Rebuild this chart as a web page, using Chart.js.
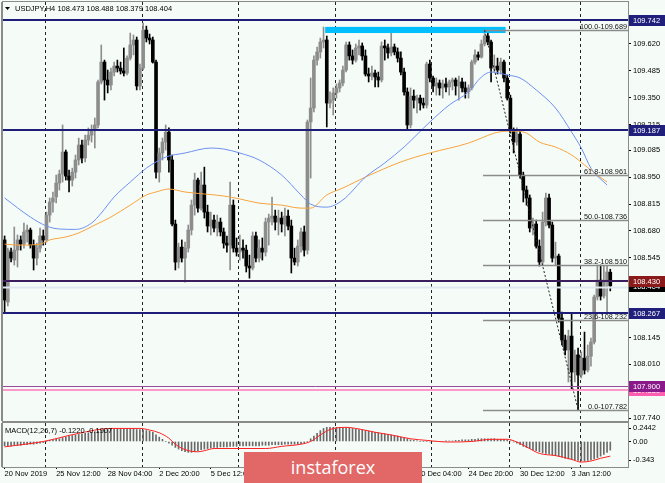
<!DOCTYPE html>
<html lang="en">
<head>
<meta charset="UTF-8">
<title>USDJPY H4</title>
<script src="https://cdn.jsdelivr.net/npm/chart.js@4.4.1/dist/chart.umd.min.js"></script>
<style>
  html, body { margin: 0; padding: 0; background: #f5fcf8; }
  #wrap { position: relative; width: 665px; height: 483px; overflow: hidden; background: #f5fcf8; }
  #main { position: absolute; left: 0; top: 0; }
  #macd { position: absolute; left: 0; top: 422px; }
  #logo { position: absolute; left: 244px; top: 452px; width: 178px; height: 31px;
          background: #e26767; color: #fff; font: 18px "Open Sans", sans-serif;
          text-align: center; line-height: 30px; }
</style>
</head>
<body>
<div id="wrap">
  <canvas id="main" width="665" height="422"></canvas>
  <canvas id="macd" width="665" height="61"></canvas>
  <div id="logo">instaforex</div>
</div>
<script>
// ---- data ----
const symbol = 'USDJPY,H4';
const xTickLabels = ['20 Nov 2019', '25 Nov 12:00', '28 Nov 04:00', '2 Dec 20:00', '5 Dec 12:00', '10 Dec 04:00',
  '12 Dec 20:00', '17 Dec 12:00', '20 Dec 04:00', '24 Dec 20:00', '30 Dec 12:00', '3 Jan 12:00'];
const yTickLabels = ['109.620', '109.485', '109.350', '109.215', '109.085', '108.950', '108.815', '108.680',
  '108.545', '108.410', '108.275', '108.145', '108.010', '107.875', '107.740'];
const macdTickLabels = ['0.2442', '0.00', '-0.343'];
const macdTickValues = [0.2442, 0, -0.343];
const macdCaption = 'MACD(12,26,7) -0.1220 -0.1907';

// open, high, low, close per H4 bar
const ohlc = [
  [108.635,108.655,108.273,108.333],[108.323,108.594,108.303,108.584],[108.574,108.594,108.524,108.544],[108.534,108.700,108.509,108.584],
  [108.584,108.660,108.499,108.635],[108.635,108.655,108.584,108.614],[108.614,108.720,108.594,108.675],[108.675,108.710,108.624,108.685],
  [108.685,108.695,108.594,108.609],[108.609,108.635,108.484,108.544],[108.544,108.619,108.509,108.594],[108.594,108.695,108.574,108.655],
  [108.655,108.685,108.609,108.635],[108.635,108.775,108.624,108.760],[108.760,108.846,108.725,108.826],[108.826,108.876,108.775,108.846],
  [108.851,108.961,108.821,108.921],[108.921,108.986,108.886,108.966],[108.966,109.213,108.926,109.077],[109.077,109.087,108.936,108.956],
  [108.956,108.986,108.876,108.936],[108.936,108.996,108.906,108.976],[108.976,109.062,108.946,109.037],[109.037,109.147,109.012,109.112],
  [109.112,109.137,109.022,109.047],[109.047,109.162,109.027,109.137],[109.137,109.198,109.112,109.162],[109.162,109.213,109.127,109.187],
  [109.187,109.248,109.097,109.213],[109.213,109.439,109.198,109.429],[109.429,109.615,109.419,109.529],[109.529,109.539,109.338,109.439],
  [109.439,109.489,109.374,109.414],[109.414,109.499,109.389,109.479],[109.479,109.529,109.459,109.509],[109.509,109.539,109.479,109.499],
  [109.499,109.529,109.469,109.484],[109.484,109.600,109.459,109.474],[109.474,109.560,109.464,109.549],[109.549,109.675,109.539,109.615],
  [109.615,109.665,109.565,109.640],[109.640,109.655,109.389,109.409],[109.409,109.519,109.389,109.499],[109.499,109.725,109.489,109.690],
  [109.690,109.710,109.630,109.650],[109.650,109.670,109.620,109.640],[109.640,109.655,109.524,109.529],[109.529,109.539,108.946,108.976],
  [108.976,109.097,108.926,109.072],[109.072,109.147,109.037,109.127],[109.127,109.213,109.087,109.177],[109.177,109.198,108.976,109.037],
  [109.037,109.062,108.705,108.715],[108.715,108.735,108.484,108.524],[108.524,108.619,108.494,108.599],[108.599,108.635,108.524,108.544],
  [108.544,108.624,108.423,108.594],[108.594,108.710,108.574,108.685],[108.685,108.836,108.660,108.810],[108.810,108.971,108.760,108.936],
  [108.936,108.946,108.775,108.795],[108.795,108.976,108.785,108.911],[108.911,109.001,108.745,108.775],[108.775,108.810,108.675,108.705],
  [108.705,108.775,108.660,108.735],[108.735,108.760,108.675,108.695],[108.695,108.760,108.655,108.725],[108.725,108.745,108.655,108.675],
  [108.675,108.695,108.594,108.619],[108.619,108.655,108.574,108.609],[108.609,108.926,108.484,108.810],[108.810,108.836,108.574,108.594],
  [108.594,108.645,108.554,108.574],[108.574,108.660,108.534,108.594],[108.594,108.635,108.544,108.584],[108.584,108.609,108.474,108.504],
  [108.504,108.559,108.443,108.494],[108.494,108.675,108.484,108.655],[108.655,108.675,108.524,108.544],[108.544,108.635,108.524,108.594],
  [108.594,108.645,108.534,108.574],[108.574,108.745,108.554,108.725],[108.725,108.765,108.609,108.745],[108.745,108.851,108.710,108.755],
  [108.755,108.785,108.685,108.725],[108.725,108.785,108.660,108.745],[108.745,108.775,108.675,108.715],[108.715,108.795,108.655,108.755],
  [108.755,108.785,108.685,108.705],[108.705,108.735,108.469,108.544],[108.544,108.594,108.509,108.524],[108.524,108.635,108.504,108.604],
  [108.604,108.695,108.574,108.675],[108.675,108.705,108.554,108.584],[108.584,109.238,108.564,109.228],[109.228,109.449,108.946,109.298],
  [109.298,109.560,109.278,109.539],[109.539,109.605,109.514,109.580],[109.580,109.650,109.549,109.630],[109.630,109.705,109.600,109.640],
  [109.640,109.660,109.203,109.323],[109.323,109.379,109.298,109.338],[109.338,109.399,109.263,109.374],[109.374,109.419,109.348,109.399],
  [109.399,109.439,109.379,109.424],[109.424,109.509,109.409,109.489],[109.489,109.630,109.479,109.615],[109.615,109.630,109.539,109.560],
  [109.560,109.590,109.519,109.539],[109.539,109.620,109.529,109.600],[109.600,109.640,109.565,109.610],[109.610,109.625,109.539,109.560],
  [109.560,109.590,109.459,109.469],[109.469,109.499,109.429,109.459],[109.459,109.509,109.439,109.474],[109.474,109.489,109.404,109.454],
  [109.454,109.479,109.404,109.439],[109.439,109.630,109.429,109.610],[109.610,109.640,109.539,109.600],[109.600,109.620,109.549,109.575],
  [109.575,109.685,109.560,109.605],[109.605,109.620,109.565,109.580],[109.580,109.600,109.529,109.549],[109.549,109.580,109.464,109.479],
  [109.479,109.499,109.363,109.379],[109.379,109.399,109.187,109.213],[109.213,109.399,109.198,109.358],[109.358,109.389,109.298,109.338],
  [109.338,109.363,109.273,109.348],[109.348,109.363,109.288,109.323],[109.323,109.348,109.298,109.313],[109.313,109.529,109.298,109.519],
  [109.519,109.539,109.429,109.449],[109.449,109.459,109.379,109.409],[109.409,109.449,109.363,109.424],[109.424,109.439,109.363,109.399],
  [109.399,109.439,109.348,109.419],[109.419,109.449,109.379,109.404],[109.404,109.439,109.363,109.429],[109.429,109.449,109.389,109.439],
  [109.439,109.449,109.363,109.409],[109.409,109.459,109.338,109.429],[109.429,109.449,109.379,109.399],[109.399,109.429,109.348,109.379],
  [109.379,109.414,109.348,109.399],[109.399,109.539,109.389,109.529],[109.529,109.590,109.519,109.565],[109.565,109.580,109.539,109.554],
  [109.554,109.640,109.549,109.620],[109.620,109.689,109.610,109.660],[109.660,109.675,109.615,109.630],[109.630,109.640,109.429,109.499],
  [109.499,109.565,109.479,109.509],[109.509,109.549,109.469,109.489],[109.489,109.549,109.469,109.529],[109.529,109.539,109.429,109.449],
  [109.449,109.464,109.338,109.348],[109.348,109.363,109.172,109.187],[109.187,109.198,109.072,109.127],[109.127,109.198,109.112,109.167],
  [109.167,109.187,108.946,108.961],[108.961,108.976,108.826,108.886],[108.886,108.906,108.810,108.846],[108.846,108.861,108.675,108.695],
  [108.695,108.745,108.660,108.715],[108.715,108.735,108.594,108.604],[108.604,108.635,108.504,108.524],[108.524,108.775,108.509,108.725],
  [108.725,108.871,108.705,108.846],[108.846,108.866,108.695,108.710],[108.710,108.725,108.524,108.544],[108.544,108.624,108.509,108.554],
  [108.554,108.564,108.222,108.242],[108.242,108.273,108.107,108.132],[108.132,108.157,108.057,108.082],[108.082,108.182,107.921,108.152],
  [108.152,108.268,107.881,107.971],[107.971,108.082,107.921,108.057],[108.057,108.092,107.782,107.956],[107.956,108.072,107.941,108.041],
  [108.041,108.172,107.961,107.981],[107.981,108.107,107.971,108.051],[108.051,108.142,108.001,108.122],[108.122,108.358,108.112,108.348],
  [108.348,108.509,108.333,108.433],[108.433,108.509,108.333,108.353],[108.353,108.504,108.343,108.433],[108.433,108.504,108.273,108.474],
  [108.473,108.488,108.379,108.404]
];

// moving averages: [bar index, value]
const maBlue = [[0,108.846],[8,108.750],[13,108.705],[17,108.690],[22,108.688],[27,108.720],[30,108.770],[34,108.851],
  [39,108.926],[44,108.996],[47,109.027],[50,109.052],[56,109.072],[64,109.097],[68,109.092],[73,109.072],[79,109.037],
  [86,108.961],[92,108.861],[95,108.815],[100,108.800],[105,108.836],[112,108.951],[118,109.022],[124,109.102],
  [132,109.228],[138,109.313],[144,109.379],[148,109.454],[151,109.479],[156,109.464],[160,109.449],[165,109.389],
  [171,109.298],[176,109.177],[179,109.097],[182,108.996],[187,108.911]];
const maOrange = [[0,108.614],[5,108.609],[11,108.614],[14,108.635],[19,108.650],[23,108.670],[28,108.710],[33,108.750],
  [39,108.810],[44,108.861],[47,108.876],[51,108.891],[56,108.876],[62,108.866],[68,108.856],[73,108.841],[79,108.820],
  [86,108.810],[92,108.795],[95,108.795],[100,108.861],[105,108.896],[112,108.951],[123,109.027],[132,109.072],
  [144,109.122],[148,109.147],[152,109.172],[156,109.182],[159,109.182],[162,109.172],[166,109.127],[171,109.102],
  [176,109.062],[180,109.012],[184,108.961],[187,108.926]];

// MACD main (histogram), one value per bar
const macdHist = [
  -0.08,-0.08,-0.08,-0.07,-0.07,-0.07,-0.06,-0.06,-0.05,-0.05,-0.04,-0.03,-0.02,
  0.00,0.02,0.03,0.04,0.05,0.07,0.08,0.10,0.11,0.12,0.13,0.14,0.15,0.16,0.17,0.18,0.19,0.20,0.21,0.22,0.23,
  0.24,0.24,0.24,0.23,0.23,0.23,0.23,0.22,0.22,
  0.21,0.20,0.19,0.17,0.12,0.08,0.04,0.00,
  -0.03,-0.07,-0.11,-0.14,-0.17,-0.19,-0.20,-0.20,-0.19,-0.17,-0.15,-0.14,-0.13,
  -0.12,-0.11,-0.11,-0.10,-0.10,-0.10,-0.09,
  -0.09,-0.09,-0.08,-0.08,-0.08,-0.08,-0.08,-0.08,-0.08,-0.07,
  -0.07,-0.07,-0.06,-0.06,-0.06,-0.06,-0.05,-0.05,-0.05,-0.05,-0.05,
  -0.04,-0.03,0.00,0.05,0.10,0.15,0.20,0.24,0.26,
  0.26,0.26,0.26,0.26,0.25,0.25,0.25,0.24,
  0.23,0.22,0.21,0.20,0.19,0.18,0.17,0.16,0.15,0.14,0.13,0.12,0.11,0.10,0.08,0.06,0.05,0.03,0.02,0.01,
  0.00,0.00,0.00,-0.01,0.00,0.00,0.00,0.00,0.01,0.01,0.01,0.02,
  0.02,0.03,0.03,0.03,0.04,0.04,0.05,0.05,0.05,0.05,
  0.05,0.05,0.04,0.04,0.04,0.03,0.01,
  -0.01,-0.03,-0.06,-0.09,-0.11,-0.13,-0.15,-0.17,-0.19,-0.21,-0.22,-0.23,-0.25,-0.26,-0.27,-0.29,
  -0.31,-0.32,-0.33,-0.34,-0.35,-0.36,-0.36,-0.35,-0.34,-0.32,-0.30,-0.27,-0.24,-0.20,-0.16
];
// MACD signal: [bar index, value]
const macdSignal = [[0,-0.10],[12,0.00],[23,0.15],[33,0.24],[42,0.24],[45,0.21],[48,0.16],[51,0.06],[53,-0.05],
  [56,-0.15],[60,-0.19],[62,-0.17],[65,-0.13],[81,-0.13],[86,-0.09],[92,-0.05],[95,0.00],[98,0.12],[101,0.22],
  [106,0.26],[110,0.23],[115,0.17],[120,0.12],[126,0.05],[131,0.02],[138,-0.01],[145,0.00],[151,0.04],[156,0.04],
  [159,-0.01],[162,-0.10],[166,-0.22],[171,-0.26],[176,-0.33],[179,-0.38],[182,-0.36],[185,-0.31],[188,-0.27]];

// chart objects
const weekStarts = [13, 43, 73, 103, 133, 157, 179];
const levels = [109.742, 109.187, 108.430, 108.267, 107.900, 107.880];
const fibRatios = ['100.0', '61.8', '50.0', '38.2', '23.6', '0.0'];
const fibPrices = [109.689, 108.961, 108.736, 108.510, 108.232, 107.782];
const fibBars = [149, 178];
const zoneBars = [100, 156];
const zonePrices = [109.706, 109.675];

// ---- drawing ----
const SLOTS = 194;
const labels = Array.from({length: SLOTS}, (_, i) => String(i));
const FONT = "'Liberation Sans', Arial, sans-serif";
Chart.defaults.font.family = FONT;
Chart.defaults.font.size = 7.5;
Chart.defaults.color = '#000';

function sparse(pairs) {
  const arr = new Array(SLOTS).fill(null);
  pairs.forEach(([i, v]) => { arr[i] = v; });
  return arr;
}
const isBull = r => r[3] > r[0];
const candleColor = ohlc.map(r => isBull(r) ? '#8d8d8d' : '#000000');

function halfSlot(x) { return (x.getPixelForValue(1) - x.getPixelForValue(0)) / 2; }

function drawWeekLines(chart) {
  const {ctx, chartArea: a, scales: {x}} = chart;
  const h = halfSlot(x);
  ctx.save();
  ctx.strokeStyle = '#222';
  ctx.lineWidth = 1;
  ctx.setLineDash([3, 3]);
  weekStarts.forEach(i => {
    const px = Math.round(x.getPixelForValue(i) - h) + 0.5;
    ctx.beginPath(); ctx.moveTo(px, a.top); ctx.lineTo(px, a.bottom); ctx.stroke();
  });
  ctx.restore();
}

function drawFrame(chart) {
  const {ctx, chartArea: a} = chart;
  ctx.save();
  ctx.strokeStyle = '#8a8a8a';
  ctx.lineWidth = 1;
  ctx.strokeRect(a.left - 0.5, a.top - 0.5, a.right - a.left + 1, a.bottom - a.top + 1);
  ctx.fillStyle = '#8a8a8a';
  ctx.fillRect(a.left - 2, a.top, 2, a.bottom - a.top);
  ctx.restore();
}

function hline(ctx, a, y, color, w) {
  ctx.strokeStyle = color; ctx.lineWidth = w;
  ctx.beginPath(); ctx.moveTo(a.left, y); ctx.lineTo(a.right, y); ctx.stroke();
}

const mainOverlay = {
  id: 'mainOverlay',
  beforeDatasetsDraw(chart) { drawWeekLines(chart); },
  afterDatasetsDraw(chart) {
    const {ctx, chartArea: a, scales: {x, y}} = chart;
    const h = halfSlot(x);
    const last = ohlc[ohlc.length - 1];
    ctx.save();
    // bid line
    hline(ctx, a, Math.round(y.getPixelForValue(last[3])) + 1.5, '#dfe7ef', 2);
    // resistance zone
    const zx0 = x.getPixelForValue(zoneBars[0]) - h, zx1 = x.getPixelForValue(zoneBars[1]) - h;
    const zy0 = y.getPixelForValue(zonePrices[0]), zy1 = y.getPixelForValue(zonePrices[1]);
    ctx.fillStyle = '#00bfff';
    ctx.fillRect(zx0, zy0, zx1 - zx0, zy1 - zy0);
    // horizontal levels
    const lvStyle = [['#1e1e78', 2], ['#1e1e78', 2], ['#3c1d5e', 2], ['#1e1e78', 2], ['#9a4a9a', 1], ['#ff99cc', 2]];
    levels.forEach((v, i) => hline(ctx, a, Math.round(y.getPixelForValue(v)) + (lvStyle[i][1] === 1 ? 0.5 : 0), lvStyle[i][0], lvStyle[i][1]));
    // fibonacci
    const fx0 = x.getPixelForValue(fibBars[0]) - h;
    ctx.font = '7.3px ' + FONT;
    ctx.textAlign = 'right';
    ctx.textBaseline = 'alphabetic';
    fibPrices.forEach((v, i) => {
      const py = Math.round(y.getPixelForValue(v)) + 0.5;
      ctx.strokeStyle = '#8c8c8c'; ctx.lineWidth = 1.5;
      ctx.beginPath(); ctx.moveTo(fx0, py); ctx.lineTo(a.right, py); ctx.stroke();
      ctx.fillStyle = '#111';
      ctx.fillText(fibRatios[i] + '-' + v.toFixed(3), a.right - 1, py - 2);
    });
    // fib trend line
    ctx.strokeStyle = '#222'; ctx.lineWidth = 1; ctx.setLineDash([2, 2]);
    ctx.beginPath();
    ctx.moveTo(x.getPixelForValue(fibBars[0]), y.getPixelForValue(fibPrices[0]));
    ctx.lineTo(x.getPixelForValue(fibBars[1]), y.getPixelForValue(fibPrices[fibPrices.length - 1]));
    ctx.stroke();
    ctx.setLineDash([]);
    // header
    ctx.fillStyle = '#000';
    ctx.beginPath(); ctx.moveTo(5, 7); ctx.lineTo(10, 7); ctx.lineTo(7.5, 10); ctx.closePath(); ctx.fill();
    ctx.font = '7.5px ' + FONT;
    ctx.textAlign = 'left'; ctx.textBaseline = 'middle';
    ctx.fillText(symbol + ' ' + last.map(v => v.toFixed(3)).join(' '), 15, 8.5);
    ctx.restore();
  },
  afterDraw(chart) {
    const {ctx, chartArea: a, scales: {y}} = chart;
    drawFrame(chart);
    const last = ohlc[ohlc.length - 1];
    const marks = [
      [levels[0], '#20207c'], [levels[1], '#20207c'], [levels[3], '#20207c'],
      [last[3], '#000000'], [levels[2], '#8b1a1a'], [levels[5], '#ff5fb0'], [levels[4], '#8a1a8a']
    ];
    ctx.save();
    ctx.font = '7.5px ' + FONT;
    ctx.textAlign = 'left'; ctx.textBaseline = 'middle';
    marks.forEach(([v, bg]) => {
      const py = Math.round(y.getPixelForValue(v));
      ctx.fillStyle = bg;
      ctx.fillRect(a.right + 1, py - 5, 36, 11);
      ctx.fillStyle = '#fff';
      ctx.fillText(v.toFixed(3), a.right + 5, py + 0.5);
    });
    ctx.restore();
  }
};

const macdOverlay = {
  id: 'macdOverlay',
  beforeDatasetsDraw(chart) { drawWeekLines(chart); },
  afterDatasetsDraw(chart) {
    const {ctx} = chart;
    ctx.save();
    ctx.font = '7.5px ' + FONT;
    ctx.fillStyle = '#000';
    ctx.textAlign = 'left'; ctx.textBaseline = 'middle';
    ctx.fillText(macdCaption, 5, 9);
    ctx.restore();
  },
  afterDraw(chart) { drawFrame(chart); }
};

function rightAxis(min, max, tickValues, tickLabels) {
  return {
    position: 'right', min, max,
    afterBuildTicks: axis => { axis.ticks = tickValues.map(v => ({value: v})); },
    afterFit: axis => { axis.width = 37; axis.paddingTop = 0; axis.paddingBottom = 0; },
    ticks: { callback: (v, i) => tickLabels[i], padding: 2, font: {size: 7.5}, color: '#000' },
    grid: { drawOnChartArea: false, tickLength: 3, color: '#000' },
    border: { display: true, color: '#7f7f7f', width: 1 }
  };
}

const common = {
  responsive: false, maintainAspectRatio: false, animation: false, devicePixelRatio: 1, events: [],
  plugins: { legend: { display: false }, tooltip: { enabled: false } }
};

new Chart(document.getElementById('main'), {
  type: 'bar',
  data: {
    labels,
    datasets: [
      { type: 'line', data: sparse(maBlue), borderColor: '#6d8ff0', borderWidth: 1, pointRadius: 0,
        spanGaps: true, cubicInterpolationMode: 'monotone', order: 0 },
      { type: 'line', data: sparse(maOrange), borderColor: '#f7a33c', borderWidth: 1, pointRadius: 0,
        spanGaps: true, cubicInterpolationMode: 'monotone', order: 1 },
      { data: ohlc.map(r => [r[0], r[3]]), backgroundColor: candleColor, barThickness: 3,
        minBarLength: 1, grouped: false, order: 2 },
      { data: ohlc.map(r => [r[2], r[1]]), backgroundColor: candleColor, barThickness: 1,
        grouped: false, order: 3 }
    ]
  },
  options: Object.assign({}, common, {
    layout: { padding: { left: 3, top: 2, right: 0, bottom: 1 } },
    scales: {
      x: { display: false, offset: true },
      y: rightAxis(107.725, 109.831, yTickLabels.map(parseFloat), yTickLabels)
    }
  }),
  plugins: [mainOverlay]
});

new Chart(document.getElementById('macd'), {
  type: 'bar',
  data: {
    labels,
    datasets: [
      { type: 'line', data: sparse(macdSignal), borderColor: '#ff1f1f', borderWidth: 1, pointRadius: 0,
        spanGaps: true, cubicInterpolationMode: 'monotone', order: 0 },
      { data: macdHist, backgroundColor: '#6a6a6a', barThickness: 1, grouped: false, order: 1 }
    ]
  },
  options: Object.assign({}, common, {
    layout: { padding: { left: 3, top: 1, right: 0, bottom: 0 } },
    scales: {
      x: {
        offset: true,
        afterFit: axis => { axis.height = 16; axis.paddingLeft = 0; axis.paddingRight = 0; },
        ticks: {
          autoSkip: false, maxRotation: 0, align: 'start', padding: 0, font: {size: 7.5}, color: '#000',
          callback: (v, i) => (i % 16 === 0 && i / 16 < xTickLabels.length) ? xTickLabels[i / 16] : ''
        },
        grid: { drawOnChartArea: false, tickLength: 2, offset: false,
          color: c => (c.index % 16 === 0 && c.index / 16 < xTickLabels.length) ? '#000' : 'rgba(0,0,0,0)' },
        border: { display: false }
      },
      y: rightAxis(-0.47, 0.34, macdTickValues, macdTickLabels)
    }
  }),
  plugins: [macdOverlay]
});
</script>
</body>
</html>
